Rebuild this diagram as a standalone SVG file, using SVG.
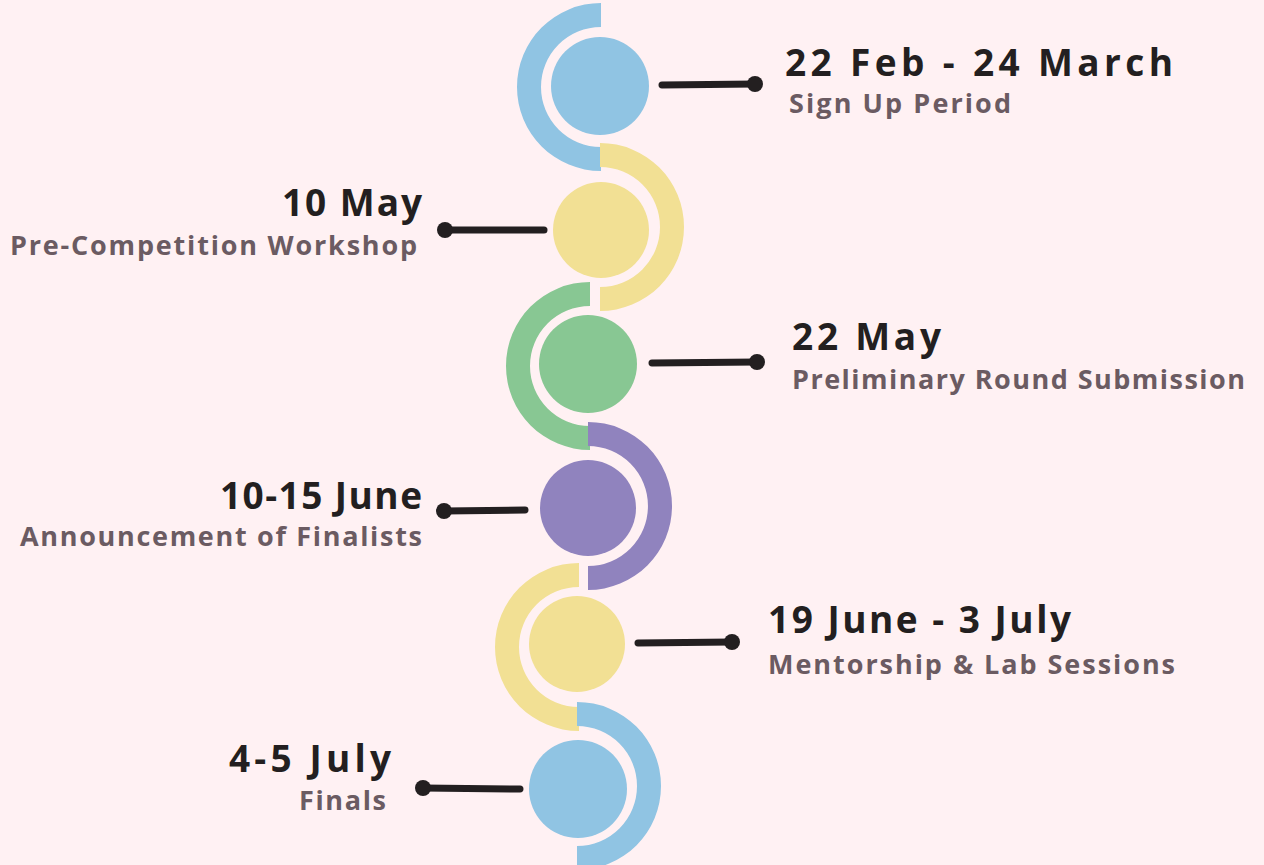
<svg xmlns="http://www.w3.org/2000/svg" width="1264" height="865" viewBox="0 0 1264 865">
<style>
.bg{fill:#FFF1F3}
.blue{fill:#90C4E3}
.yellow{fill:#F2E094}
.green{fill:#88C793}
.purple{fill:#9083BE}
.title{font-family:"Open Sans","Lato","Liberation Sans",sans-serif;font-weight:700;font-size:37px;fill:#231F20}
.sub{font-family:"Open Sans","Lato","Liberation Sans",sans-serif;font-weight:700;font-size:27px;fill:#6B5B62}
.line{stroke:#231F20;stroke-width:7;stroke-linecap:round;fill:none}
.dot{fill:#231F20}
</style>
<rect class="bg" x="0" y="0" width="1264" height="865"/>
<g id="node1">
<path class="blue" d="M601,3 A84,84 0 0 0 601,171 L601,147 A60,60 0 0 1 601,27 Z"/>
<circle class="blue" cx="600" cy="86" r="49"/>
<text class="title" x="785" y="76" textLength="388" lengthAdjust="spacing">22 Feb - 24 March</text>
<text class="sub" x="789" y="113" textLength="222" lengthAdjust="spacing">Sign Up Period</text>
</g>
<g id="node2">
<path class="yellow" d="M600,143 A84,84 0 0 1 600,311 L600,287 A60,60 0 0 0 600,167 Z"/>
<circle class="yellow" cx="601" cy="230" r="48"/>
<text class="title" x="422" y="216" text-anchor="end" textLength="140" lengthAdjust="spacing">10 May</text>
<text class="sub" x="417" y="255" text-anchor="end" textLength="407" lengthAdjust="spacing">Pre-Competition Workshop</text>
</g>
<g id="node3">
<path class="green" d="M590,282 A84,84 0 0 0 590,450 L590,426 A60,60 0 0 1 590,306 Z"/>
<circle class="green" cx="588" cy="364" r="49"/>
<text class="title" x="792" y="350" textLength="149" lengthAdjust="spacing">22 May</text>
<text class="sub" x="792" y="389" textLength="453" lengthAdjust="spacing">Preliminary Round Submission</text>
</g>
<g id="node4">
<path class="purple" d="M588,422 A84,84 0 0 1 588,590 L588,566 A60,60 0 0 0 588,446 Z"/>
<circle class="purple" cx="588" cy="508" r="48"/>
<text class="title" x="422" y="509" text-anchor="end" textLength="202" lengthAdjust="spacing">10-15 June</text>
<text class="sub" x="422" y="546" text-anchor="end" textLength="402" lengthAdjust="spacing">Announcement of Finalists</text>
</g>
<g id="node5">
<path class="yellow" d="M579,563 A84,84 0 0 0 579,731 L579,707 A60,60 0 0 1 579,587 Z"/>
<circle class="yellow" cx="577" cy="644" r="48"/>
<text class="title" x="768" y="633" textLength="303" lengthAdjust="spacing">19 June - 3 July</text>
<text class="sub" x="768" y="674" textLength="407" lengthAdjust="spacing">Mentorship &amp; Lab Sessions</text>
</g>
<g id="node6">
<path class="blue" d="M577,702 A84,84 0 0 1 577,870 L577,846 A60,60 0 0 0 577,726 Z"/>
<circle class="blue" cx="578" cy="789" r="49"/>
<text class="title" x="391" y="772" text-anchor="end" textLength="162" lengthAdjust="spacing">4-5 July</text>
<text class="sub" x="386" y="810" text-anchor="end" textLength="87" lengthAdjust="spacing">Finals</text>
</g>
<g id="connectors">
<line class="line" x1="662" y1="85" x2="755" y2="84"/>
<circle class="dot" cx="755" cy="84" r="8"/>
<line class="line" x1="445" y1="230" x2="544" y2="230"/>
<circle class="dot" cx="445" cy="230" r="8"/>
<line class="line" x1="652" y1="363" x2="757" y2="362"/>
<circle class="dot" cx="757" cy="362" r="8"/>
<line class="line" x1="444" y1="511" x2="525" y2="510"/>
<circle class="dot" cx="444" cy="511" r="8"/>
<line class="line" x1="638" y1="643" x2="732" y2="642"/>
<circle class="dot" cx="732" cy="642" r="8"/>
<line class="line" x1="423" y1="788" x2="520" y2="789"/>
<circle class="dot" cx="423" cy="788" r="8"/>
</g>
</svg>
